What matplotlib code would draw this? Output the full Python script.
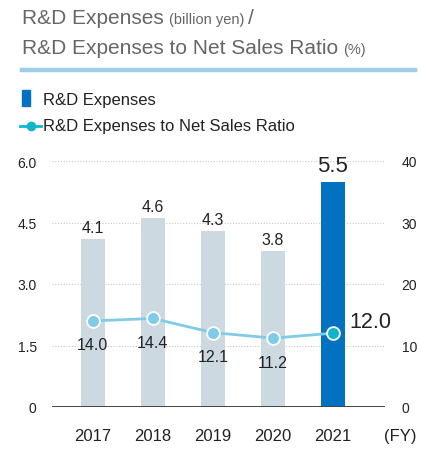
import matplotlib
matplotlib.use("Agg")
import matplotlib.pyplot as plt
from matplotlib.lines import Line2D

plt.rcParams['font.family'] = ['Liberation Sans', 'DejaVu Sans']

years = ['2017', '2018', '2019', '2020', '2021']
expenses = [4.1, 4.6, 4.3, 3.8, 5.5]          # billion yen
ratio = [14.0, 14.4, 12.1, 11.2, 12.0]         # % of net sales

bar_grey = '#ccd9e1'
bar_blue = '#0072c1'
line_col = '#7fcbe8'
dot_last = '#12b5cb'
text_col = '#222222'
title_col = '#666666'

W, H = 421, 452
fig = plt.figure(figsize=(W / 100, H / 100), dpi=100)
renderer = fig.canvas.get_renderer()

def fx(px):
    return px / W

def fy(py):
    return 1 - py / H

def after(txt, gap_px, s, **kw):
    # put a new text right after an existing one on the same baseline
    bb = txt.get_window_extent(renderer)
    x0 = (bb.x1 + gap_px) / W
    return fig.text(x0, txt.get_position()[1], s, **kw)

ax = fig.add_axes([fx(52), fy(408), fx(385) - fx(52), fy(162) - fy(408)])
ax2 = ax.twinx()

x = list(range(len(years)))
colors = [bar_grey] * 4 + [bar_blue]
ax.bar(x, expenses, width=0.39, color=colors, zorder=2)
ax.set_xlim(-0.68, 4.87)
ax.set_ylim(0, 6.0)
ax.set_yticks([0, 1.5, 3.0, 4.5, 6.0])
ax.set_yticklabels(['0', '1.5', '3.0', '4.5', '6.0'])
for v in [1.5, 3.0, 4.5, 6.0]:
    ax.axhline(v, color='#c8c8c8', lw=0.8, ls=(0, (1, 1.5)), zorder=1)
ax.axhline(0, color='#444444', lw=1.4, zorder=3)

for i, v in enumerate(expenses):
    if i == 4:
        ax.text(i, v + 0.13, f'{v:.1f}', ha='center', va='bottom',
                fontsize=16, color=text_col)
    else:
        ax.text(i, v + 0.1, f'{v:.1f}', ha='center', va='bottom',
                fontsize=11.5, color=text_col)

ax2.set_ylim(0, 40)
ax2.set_yticks([0, 10, 20, 30, 40])
ax2.plot(x, ratio, color=line_col, lw=2, zorder=4)
ax2.scatter(x[:4], ratio[:4], s=85, color=line_col, edgecolor='white',
            linewidth=1.3, zorder=5)
ax2.scatter(x[4:], ratio[4:], s=85, color=dot_last, edgecolor='white',
            linewidth=1.3, zorder=5)
for i, v in enumerate(ratio):
    if i == 4:
        ax2.text(i + 0.27, v + 1.9, f'{v:.1f}', ha='left', va='center',
                 fontsize=15.5, color=text_col)
    else:
        ax2.text(i, v - 3.9, f'{v:.1f}', ha='center', va='center',
                 fontsize=11.5, color=text_col)

for a in (ax, ax2):
    for s in a.spines.values():
        s.set_visible(False)
    a.tick_params(length=0, labelsize=10, colors=text_col)
ax.tick_params(axis='y', pad=11)
ax2.tick_params(axis='y', pad=12)
ax.set_xticks(x)
ax.set_xticklabels(years, fontsize=12)
ax.tick_params(axis='x', pad=15)
ax2.set_zorder(ax.get_zorder() + 1)
ax2.patch.set_visible(False)
fig.text(fx(384), fy(437), '(FY)', ha='left', va='center', fontsize=12,
         color=text_col)

# header
t1 = fig.text(fx(22), fy(24), 'R&D Expenses', ha='left', va='baseline',
              fontsize=15, color=title_col)
t1b = after(t1, 5, '(billion yen)', ha='left', va='baseline', fontsize=10.5,
            color=title_col)
after(t1b, 4, '/', ha='left', va='baseline', fontsize=15, color=title_col)
t2 = fig.text(fx(22), fy(54), 'R&D Expenses to Net Sales Ratio', ha='left',
              va='baseline', fontsize=15, color=title_col)
after(t2, 5, '(%)', ha='left', va='baseline', fontsize=10.5, color=title_col)
fig.add_artist(Line2D([fx(22), fx(415)], [fy(71), fy(71)], color='#9fcdeb',
                      lw=3.2))

# legend
fig.add_artist(plt.Rectangle((fx(22), fy(107)), fx(8), fy(91) - fy(107),
                             color=bar_blue))
fig.text(fx(43), fy(100), 'R&D Expenses', ha='left', va='center',
         fontsize=12, color=text_col)
fig.add_artist(Line2D([fx(20), fx(41)], [fy(127), fy(127)], color=dot_last,
                      lw=2))
fig.add_artist(Line2D([fx(30.5)], [fy(127)], marker='o', ms=7,
                      color=dot_last, mew=0))
fig.text(fx(43), fy(127), 'R&D Expenses to Net Sales Ratio', ha='left',
         va='center', fontsize=12, color=text_col)

fig.savefig('out.png', dpi=100)
